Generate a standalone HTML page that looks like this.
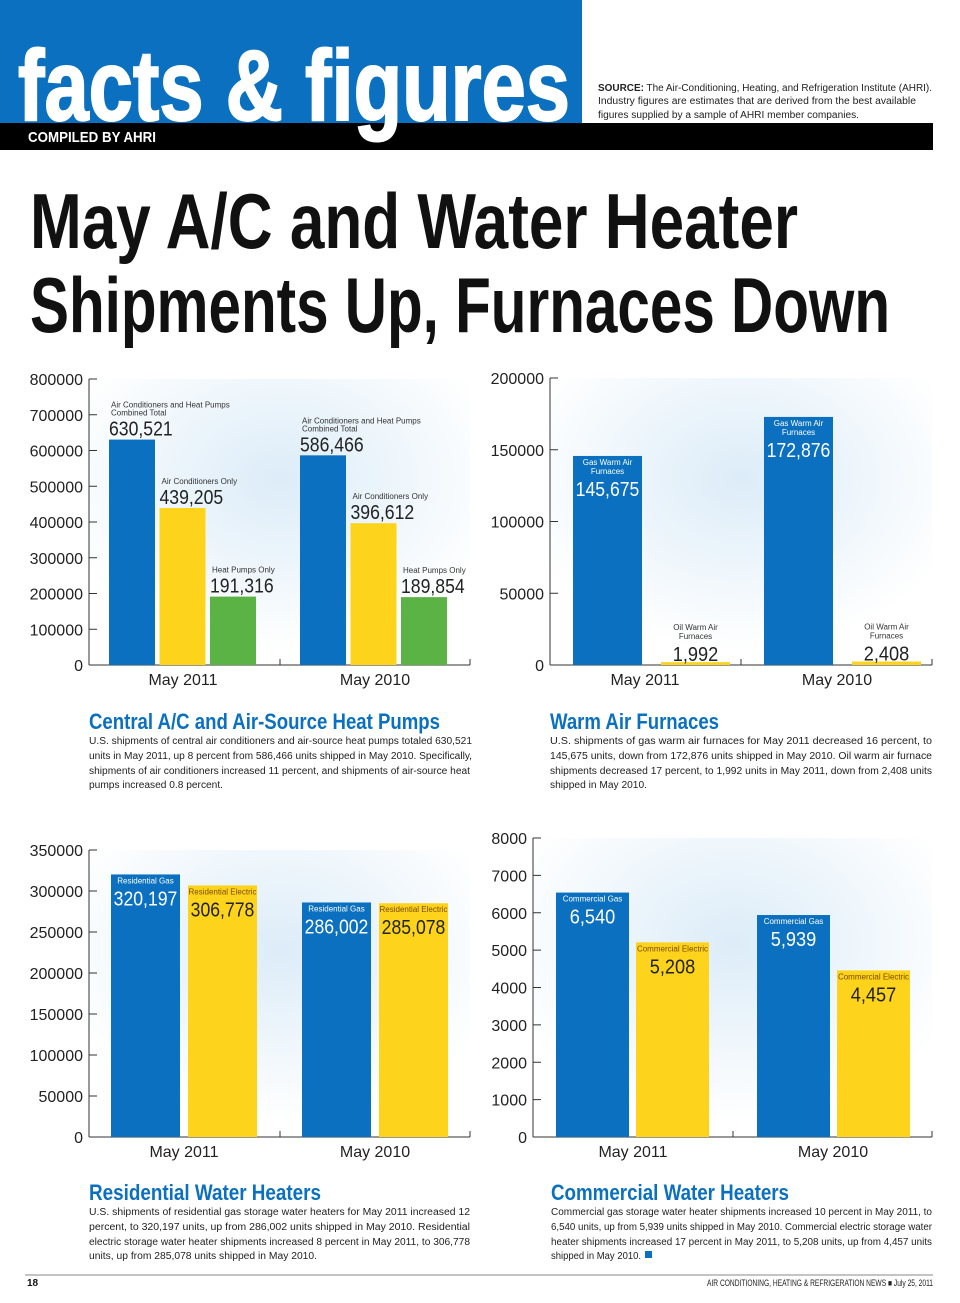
<!DOCTYPE html>
<html><head><meta charset="utf-8"><style>
html,body{margin:0;padding:0;background:#fff}
svg{display:block}
text{font-family:"Liberation Sans",sans-serif}
.cond{font-family:"Liberation Sans Narrow","Liberation Sans",sans-serif}
</style></head><body>
<svg id="page" width="960" height="1303" viewBox="0 0 960 1303" xmlns="http://www.w3.org/2000/svg">
<defs>
<radialGradient id="glow" cx="0.5" cy="0.35" r="0.6">
<stop offset="0" stop-color="#dcecf8"/><stop offset="1" stop-color="#ffffff"/>
</radialGradient>
</defs>
<rect width="960" height="1303" fill="#fff"/>
<g>
<rect x="0" y="0" width="582" height="124" fill="#0a70bf"/>
<rect x="0" y="123" width="933" height="27" fill="#000"/>
<text x="18" y="120" class="cond" font-size="100" font-weight="bold" fill="#fff" stroke="#fff" stroke-width="2" textLength="552" lengthAdjust="spacingAndGlyphs">facts &amp; figures</text>
<text x="28" y="142" class="cond" font-size="15" font-weight="bold" fill="#fff" textLength="128" lengthAdjust="spacingAndGlyphs">COMPILED BY AHRI</text>
<g font-size="10" fill="#222" class="cond">
<text x="598" y="91" textLength="334" lengthAdjust="spacingAndGlyphs"><tspan font-weight="bold">SOURCE:</tspan> The Air-Conditioning, Heating, and Refrigeration Institute (AHRI).</text>
<text x="598" y="104" textLength="318" lengthAdjust="spacingAndGlyphs">Industry figures are estimates that are derived from the best available</text>
<text x="598" y="118" textLength="261" lengthAdjust="spacingAndGlyphs">figures supplied by a sample of AHRI member companies.</text>
</g>
</g>
<g class="cond" font-weight="bold" font-size="78" fill="#111">
<text x="30" y="248" textLength="768" lengthAdjust="spacingAndGlyphs">May A/C and Water Heater</text>
<text x="30" y="332" textLength="860" lengthAdjust="spacingAndGlyphs">Shipments Up, Furnaces Down</text>
</g>
<g id="charts"></g>
<g class="cond">
<text x="89" y="729" font-size="22" font-weight="bold" fill="#0a70bf" textLength="351" lengthAdjust="spacingAndGlyphs">Central A/C and Air-Source Heat Pumps</text>
<g font-size="10" fill="#222">
<text x="89" y="744" textLength="383" lengthAdjust="spacingAndGlyphs">U.S. shipments of central air conditioners and air-source heat pumps totaled 630,521</text>
<text x="89" y="759" textLength="383" lengthAdjust="spacingAndGlyphs">units in May 2011, up 8 percent from 586,466 units shipped in May 2010. Specifically,</text>
<text x="89" y="774" textLength="381" lengthAdjust="spacingAndGlyphs">shipments of air conditioners increased 11 percent, and shipments of air-source heat</text>
<text x="89" y="788" textLength="134" lengthAdjust="spacingAndGlyphs">pumps increased 0.8 percent.</text>
</g>
<text x="550" y="729" font-size="22" font-weight="bold" fill="#0a70bf" textLength="169" lengthAdjust="spacingAndGlyphs">Warm Air Furnaces</text>
<g font-size="10" fill="#222">
<text x="550" y="744" textLength="382" lengthAdjust="spacingAndGlyphs">U.S. shipments of gas warm air furnaces for May 2011 decreased 16 percent, to</text>
<text x="550" y="759" textLength="382" lengthAdjust="spacingAndGlyphs">145,675 units, down from 172,876 units shipped in May 2010. Oil warm air furnace</text>
<text x="550" y="774" textLength="382" lengthAdjust="spacingAndGlyphs">shipments decreased 17 percent, to 1,992 units in May 2011, down from 2,408 units</text>
<text x="550" y="788" textLength="97" lengthAdjust="spacingAndGlyphs">shipped in May 2010.</text>
</g>
<text x="89" y="1200" font-size="22" font-weight="bold" fill="#0a70bf" textLength="232" lengthAdjust="spacingAndGlyphs">Residential Water Heaters</text>
<g font-size="10" fill="#222">
<text x="89" y="1215" textLength="381" lengthAdjust="spacingAndGlyphs">U.S. shipments of residential gas storage water heaters for May 2011 increased 12</text>
<text x="89" y="1230" textLength="381" lengthAdjust="spacingAndGlyphs">percent, to 320,197 units, up from 286,002 units shipped in May 2010.  Residential</text>
<text x="89" y="1245" textLength="381" lengthAdjust="spacingAndGlyphs">electric storage water heater shipments increased 8 percent in May 2011, to 306,778</text>
<text x="89" y="1259" textLength="228" lengthAdjust="spacingAndGlyphs">units, up from 285,078 units shipped in May 2010.</text>
</g>
<text x="551" y="1200" font-size="22" font-weight="bold" fill="#0a70bf" textLength="238" lengthAdjust="spacingAndGlyphs">Commercial Water Heaters</text>
<g font-size="10" fill="#222">
<text x="551" y="1215" textLength="381" lengthAdjust="spacingAndGlyphs">Commercial gas storage water heater shipments increased 10 percent in May 2011, to</text>
<text x="551" y="1230" textLength="381" lengthAdjust="spacingAndGlyphs">6,540 units, up from 5,939 units shipped in May 2010.  Commercial electric storage water</text>
<text x="551" y="1245" textLength="381" lengthAdjust="spacingAndGlyphs">heater shipments increased 17 percent in May 2011, to 5,208 units, up from 4,457 units</text>
<text x="551" y="1259" textLength="90" lengthAdjust="spacingAndGlyphs">shipped in May 2010.</text>
</g>
<rect x="645" y="1251" width="7" height="7" fill="#0a70bf"/>
</g>
<g>
<line x1="25" y1="1275" x2="933" y2="1275" stroke="#888" stroke-width="1"/>
<text x="27" y="1286" font-size="10" font-weight="bold" fill="#111">18</text>
<text x="933" y="1286" font-size="9" class="cond" fill="#222" text-anchor="end" textLength="226" lengthAdjust="spacingAndGlyphs">AIR CONDITIONING, HEATING &amp; REFRIGERATION NEWS ■ July 25, 2011</text>
</g>
</svg>
<script>
// Chart 1: Central A/C and heat pumps
const c1Categories = ["May 2011", "May 2010"];
const c1Series = ["Air Conditioners and Heat Pumps|Combined Total", "Air Conditioners Only", "Heat Pumps Only"];
const c1Values = [[630521, 439205, 191316], [586466, 396612, 189854]];
const c1Ticks = [0, 100000, 200000, 300000, 400000, 500000, 600000, 700000, 800000];
// Chart 2: Warm air furnaces
const c2Categories = ["May 2011", "May 2010"];
const c2Series = ["Gas Warm Air|Furnaces", "Oil Warm Air|Furnaces"];
const c2Values = [[145675, 1992], [172876, 2408]];
const c2Ticks = [0, 50000, 100000, 150000, 200000];
// Chart 3: Residential water heaters
const c3Categories = ["May 2011", "May 2010"];
const c3Series = ["Residential Gas", "Residential Electric"];
const c3Values = [[320197, 306778], [286002, 285078]];
const c3Ticks = [0, 50000, 100000, 150000, 200000, 250000, 300000, 350000];
// Chart 4: Commercial water heaters
const c4Categories = ["May 2011", "May 2010"];
const c4Series = ["Commercial Gas", "Commercial Electric"];
const c4Values = [[6540, 5208], [5939, 4457]];
const c4Ticks = [0, 1000, 2000, 3000, 4000, 5000, 6000, 7000, 8000];

const NS = "http://www.w3.org/2000/svg";
const root = document.getElementById('charts');
const colors = ["#0a70bf", "#fdd31c", "#5cb345"];
function mk(tag, attrs, parent) {
  const e = document.createElementNS(NS, tag);
  for (const k in attrs) e.setAttribute(k, attrs[k]);
  parent.appendChild(e);
  return e;
}
function fmt(v) { return v.toLocaleString('en-US'); }

function drawChart(cfg) {
  const g = mk('g', {}, root);
  
  
  const ticks = cfg.ticks, maxV = ticks[ticks.length - 1];
  const y = v => cfg.y0 - (v / maxV) * (cfg.y0 - cfg.yTop);
  const bg = mk('rect', {x: cfg.ax, y: cfg.yTop, width: cfg.axEnd - cfg.ax, height: cfg.y0 - cfg.yTop, fill: 'url(#glow)'}, g);
  
  
  const ya = mk('line', {x1: cfg.ax, y1: cfg.yTop, x2: cfg.ax, y2: cfg.y0, stroke: '#333', 'stroke-width': 1}, g);
  
  
  const xa = mk('line', {x1: cfg.ax, y1: cfg.y0, x2: cfg.axEnd, y2: cfg.y0, stroke: '#333', 'stroke-width': 1}, g);
  
  
  mk('line', {x1: cfg.axEnd, y1: cfg.y0, x2: cfg.axEnd, y2: cfg.y0 - 6, stroke: '#333'}, g);
  mk('line', {x1: cfg.divX, y1: cfg.y0, x2: cfg.divX, y2: cfg.y0 - 6, stroke: '#333'}, g);
  ticks.forEach(t => {
    mk('line', {x1: cfg.ax, y1: y(t), x2: cfg.ax + 8, y2: y(t), stroke: '#333'}, g);
    const tl = mk('text', {x: cfg.ax - 6, y: y(t) + 6, 'font-size': 16, fill: '#222', 'text-anchor': 'end'}, g);
    tl.textContent = t;
    
    
  });
  cfg.categories.forEach((cat, ci) => {
    const cl = mk('text', {x: cfg.catX[ci], y: cfg.y0 + 20, 'font-size': 16, fill: '#222', 'text-anchor': 'middle'}, g);
    cl.textContent = cat;
    
    
    cfg.values[ci].forEach((v, si) => {
      const bx = cfg.barX[ci] + si * (cfg.barW + cfg.gap);
      const top = y(v);
      const r = mk('rect', {x: bx, y: top, width: cfg.barW, height: Math.max(cfg.y0 - top, 0), fill: colors[si]}, g);
      
      
      const lines = cfg.series[si].split('|');
      const txt = fmt(v);
      const tlen = txt.length * 9.1;
      if (cfg.labelMode === 'above') {
        const base = top - 4;
        const num = mk('text', {x: bx, y: base, 'font-size': 20, fill: '#222', textLength: tlen, lengthAdjust: 'spacingAndGlyphs'}, g);
        num.textContent = txt;
        
        
        lines.forEach((ln, li) => {
          const s = mk('text', {x: bx + 2, y: base - 20 - (lines.length - 1 - li) * 8, 'font-size': 8, fill: '#333', class: 'cond'}, g);
          s.textContent = ln;
          
          
        });
      } else {
        const inside = (cfg.y0 - top) > 40;
        const cx = bx + cfg.barW / 2;
        const col = (inside && si === 0) ? '#fff' : '#222';
        const smallCol = (inside && si === 0) ? '#fff' : (inside ? '#7a4a00' : '#333');
        const start = inside ? top + 9 : top - 32;
        lines.forEach((ln, li) => {
          const s = mk('text', {x: cx, y: start + li * 9, 'font-size': 8, fill: smallCol, 'text-anchor': 'middle', class: 'cond'}, g);
          s.textContent = ln;
          
          
        });
        const num = mk('text', {x: cx, y: start + (lines.length - 1) * 9 + 22, 'font-size': 20, fill: col, 'text-anchor': 'middle', textLength: tlen, lengthAdjust: 'spacingAndGlyphs'}, g);
        num.textContent = txt;
        
        
      }
    });
  });
}

drawChart({name: 'central-ac-chart', categories: c1Categories, series: c1Series, values: c1Values, ticks: c1Ticks,
  ax: 89, axEnd: 470, yTop: 379, y0: 665, divX: 280, barX: [109, 300], barW: 46, gap: 4.5, catX: [183, 375], labelMode: 'above'});
drawChart({name: 'warm-air-furnaces-chart', categories: c2Categories, series: c2Series, values: c2Values, ticks: c2Ticks,
  ax: 550, axEnd: 932, yTop: 378, y0: 665, divX: 741, barX: [573, 764], barW: 69, gap: 19, catX: [645, 837], labelMode: 'inside'});
drawChart({name: 'residential-water-heaters-chart', categories: c3Categories, series: c3Series, values: c3Values, ticks: c3Ticks,
  ax: 89, axEnd: 470, yTop: 850, y0: 1137, divX: 280, barX: [111, 302], barW: 69, gap: 8, catX: [184, 375], labelMode: 'inside'});
drawChart({name: 'commercial-water-heaters-chart', categories: c4Categories, series: c4Series, values: c4Values, ticks: c4Ticks,
  ax: 533, axEnd: 932, yTop: 838, y0: 1137, divX: 733, barX: [556, 757], barW: 73, gap: 7, catX: [633, 833], labelMode: 'inside'});
</script>
</body></html>
